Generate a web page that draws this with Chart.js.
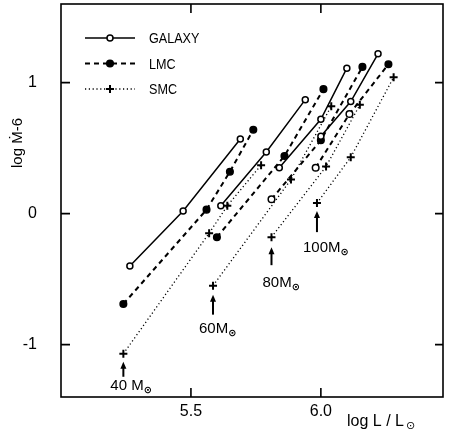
<!DOCTYPE html>
<html>
<head>
<meta charset="utf-8">
<script src="https://cdn.jsdelivr.net/npm/chart.js@4.4.0/dist/chart.umd.min.js"></script>
<style>
  body { margin: 0; background: #fff; }
  canvas { display: block; }
</style>
</head>
<body>
<canvas id="chart" width="449" height="435"></canvas>
<script>
// tracks for 40, 60, 80, 100 Msun: log L/Lsun and log Mdot - 6
const galaxyLogL = [
  [5.265, 5.47, 5.69],
  [5.615, 5.79, 5.94],
  [5.84, 6.0, 6.10],
  [6.00, 6.115, 6.22]
];
const galaxyLogMdot = [
  [-0.40, 0.02, 0.57],
  [0.06, 0.47, 0.87],
  [0.35, 0.72, 1.11],
  [0.59, 0.855, 1.22]
];
const lmcLogL = [
  [5.24, 5.56, 5.65, 5.74],
  [5.60, 5.86, 6.01],
  [5.81, 6.00, 6.16],
  [5.98, 6.11, 6.26]
];
const lmcLogMdot = [
  [-0.69, 0.03, 0.32, 0.64],
  [-0.18, 0.44, 0.95],
  [0.11, 0.56, 1.12],
  [0.35, 0.76, 1.14]
];
const smcLogL = [
  [5.24, 5.57, 5.64, 5.77],
  [5.585, 5.885, 6.04],
  [5.81, 6.02, 6.15],
  [5.985, 6.115, 6.28]
];
const smcLogMdot = [
  [-1.07, -0.15, 0.06, 0.37],
  [-0.55, 0.26, 0.82],
  [-0.18, 0.36, 0.83],
  [0.08, 0.43, 1.04]
];
const massLabels = ['40 M', '60M', '80M', '100M'];
const seriesNames = ['GALAXY', 'LMC', 'SMC'];
const xTicks = [5.5, 6.0];
const yTicks = [-1, 0, 1];

// LMC points that print as open circles in the original
const lmcOpenPoints = [[], [], [0], [0, 1]];

const FONT = '"Liberation Sans", Arial, sans-serif';

const galaxyStyle = {
  borderWidth: 1.5, pointStyle: 'circle', pointRadius: 3,
  pointBorderWidth: 1.5, pointBackgroundColor: '#fff'
};
const lmcStyle = {
  borderWidth: 2, borderDash: [5, 4], pointStyle: 'circle', pointRadius: 3.3,
  pointBorderWidth: 1.5, pointBackgroundColor: '#000'
};
const smcStyle = {
  borderWidth: 1.3, borderDash: [1.2, 2.6], pointStyle: 'cross', pointRadius: 4,
  pointBorderWidth: 2
};

function makeTrack(xs, ys, style) {
  return Object.assign({
    data: xs.map((x, i) => ({ x: x, y: ys[i] })),
    showLine: true,
    borderColor: '#000',
    pointBorderColor: '#000',
    fill: false,
    tension: 0
  }, style);
}

const datasets = [];
galaxyLogL.forEach((xs, i) => datasets.push(makeTrack(xs, galaxyLogMdot[i], galaxyStyle)));
lmcLogL.forEach((xs, i) => {
  const ds = makeTrack(xs, lmcLogMdot[i], lmcStyle);
  ds.pointBackgroundColor = xs.map((x, j) => lmcOpenPoints[i].includes(j) ? '#fff' : '#000');
  datasets.push(ds);
});
smcLogL.forEach((xs, i) => datasets.push(makeTrack(xs, smcLogMdot[i], smcStyle)));

// inward ticks, frame, legend, titles and mass arrows
const decorations = {
  id: 'decorations',
  afterDraw(chart) {
    const ctx = chart.ctx;
    const a = chart.chartArea;
    const xs = chart.scales.x;
    const ys = chart.scales.y;
    ctx.save();
    ctx.strokeStyle = '#000';
    ctx.fillStyle = '#000';
    ctx.lineWidth = 1.6;
    ctx.setLineDash([]);
    ctx.strokeRect(a.left, a.top, a.right - a.left, a.bottom - a.top);

    ctx.beginPath();
    xTicks.forEach(v => {
      const px = xs.getPixelForValue(v);
      ctx.moveTo(px, a.bottom); ctx.lineTo(px, a.bottom - 9);
      ctx.moveTo(px, a.top); ctx.lineTo(px, a.top + 9);
    });
    yTicks.forEach(v => {
      const py = ys.getPixelForValue(v);
      ctx.moveTo(a.left, py); ctx.lineTo(a.left + 9, py);
      ctx.moveTo(a.right, py); ctx.lineTo(a.right - 8, py);
    });
    ctx.stroke();

    // legend
    const styles = [galaxyStyle, lmcStyle, smcStyle];
    styles.forEach((st, i) => {
      const y = a.top + 34 + i * 25.5;
      const x0 = a.left + 24, x1 = a.left + 74, xm = (x0 + x1) / 2;
      ctx.lineWidth = st.borderWidth;
      ctx.setLineDash(st.borderDash || []);
      ctx.beginPath();
      ctx.moveTo(x0, y); ctx.lineTo(x1, y);
      ctx.stroke();
      ctx.setLineDash([]);
      ctx.lineWidth = st.pointBorderWidth;
      if (st.pointStyle === 'cross') {
        ctx.beginPath();
        ctx.moveTo(xm - 4, y); ctx.lineTo(xm + 4, y);
        ctx.moveTo(xm, y - 4); ctx.lineTo(xm, y + 4);
        ctx.stroke();
      } else {
        ctx.beginPath();
        ctx.arc(xm, y, st.pointRadius, 0, Math.PI * 2);
        ctx.fillStyle = st.pointBackgroundColor;
        ctx.fill();
        ctx.stroke();
        ctx.fillStyle = '#000';
      }
      ctx.save();
      ctx.translate(a.left + 88, y + 1);
      ctx.scale(0.84, 1);
      ctx.font = '15px ' + FONT;
      ctx.textAlign = 'left';
      ctx.textBaseline = 'middle';
      ctx.fillText(seriesNames[i], 0, 0);
      ctx.restore();
    });

    // arrows and mass labels under the SMC starting points
    const arrowOffsets = [[8, 23], [9, 29], [10, 28], [8, 29]];
    const labelOffsets = [[-13, 36], [-14, 47], [-9, 50], [-14, 49]];
    smcLogL.forEach((xsArr, i) => {
      const px = xs.getPixelForValue(xsArr[0]);
      const py = ys.getPixelForValue(smcLogMdot[i][0]);
      const t = py + arrowOffsets[i][0], b = py + arrowOffsets[i][1];
      ctx.lineWidth = 2;
      ctx.beginPath();
      ctx.moveTo(px, b); ctx.lineTo(px, t + 5);
      ctx.stroke();
      ctx.beginPath();
      ctx.moveTo(px, t); ctx.lineTo(px - 3, t + 7); ctx.lineTo(px + 3, t + 7);
      ctx.closePath();
      ctx.fill();
      const lx = px + labelOffsets[i][0], ly = py + labelOffsets[i][1];
      ctx.font = '15px ' + FONT;
      ctx.textAlign = 'left';
      ctx.textBaseline = 'alphabetic';
      ctx.fillText(massLabels[i], lx, ly);
      const w = ctx.measureText(massLabels[i]).width;
      ctx.font = 'bold 10px "DejaVu Sans", sans-serif';
      ctx.fillText('\u2299', lx + w, ly + 3);
    });

    // axis titles
    ctx.font = '16px ' + FONT;
    ctx.textAlign = 'left';
    ctx.textBaseline = 'alphabetic';
    ctx.fillText('log L / L', 347, 426);
    const tw = ctx.measureText('log L / L').width;
    ctx.font = '11px "DejaVu Sans", sans-serif';
    ctx.fillText('\u2299', 347 + tw + 2, 429);

    ctx.translate(22, 143);
    ctx.rotate(-Math.PI / 2);
    ctx.font = '15px ' + FONT;
    ctx.textAlign = 'center';
    ctx.fillText('log M\u0307-6', 0, 0);
    ctx.restore();
  }
};

new Chart(document.getElementById('chart'), {
  type: 'scatter',
  data: { datasets: datasets },
  options: {
    responsive: false,
    animation: false,
    layout: { autoPadding: false, padding: { top: 4, right: 6, left: 0, bottom: 0 } },
    plugins: { legend: { display: false }, tooltip: { enabled: false } },
    scales: {
      x: {
        type: 'linear', min: 5.0, max: 6.47,
        afterFit: s => { s.height = 38; s.paddingLeft = 0; s.paddingRight = 0; },
        afterBuildTicks: s => { s.ticks = xTicks.map(v => ({ value: v })); },
        grid: { display: false, drawTicks: false },
        border: { display: false },
        ticks: { color: '#000', padding: 5, font: { size: 16, family: FONT },
                 callback: v => v.toFixed(1) }
      },
      y: {
        type: 'linear', min: -1.4, max: 1.6,
        afterFit: s => { s.width = 61; s.paddingTop = 0; s.paddingBottom = 0; },
        afterBuildTicks: s => { s.ticks = yTicks.map(v => ({ value: v })); },
        grid: { display: false, drawTicks: false },
        border: { display: false },
        ticks: { color: '#000', padding: 24, font: { size: 16, family: FONT },
                 callback: v => String(v) }
      }
    }
  },
  plugins: [decorations]
});
</script>
</body>
</html>
